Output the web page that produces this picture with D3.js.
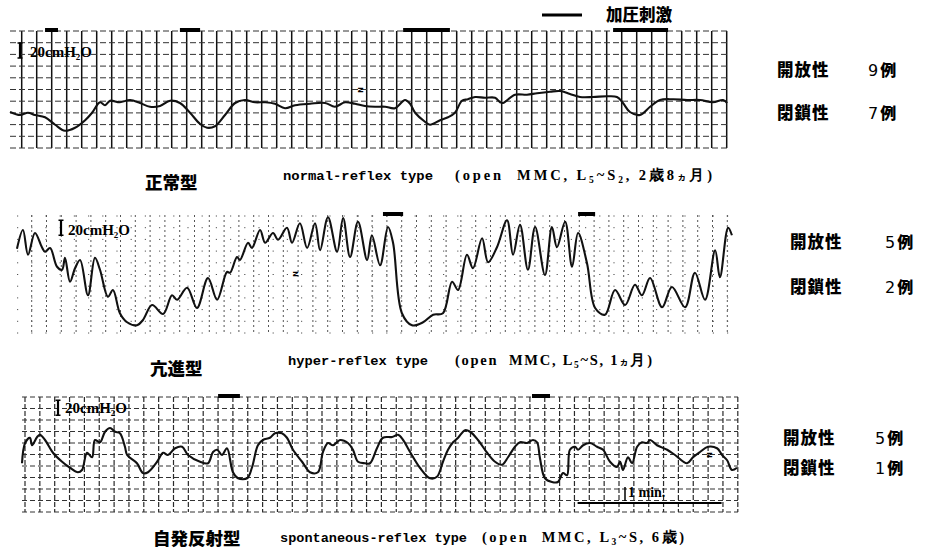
<!DOCTYPE html>
<html><head><meta charset="utf-8">
<script src="https://cdn.jsdelivr.net/npm/d3@7"></script>
<style>body{margin:0;background:#fff}</style>
</head><body>
<svg id="c" width="929" height="550"></svg>
<script>
// ---- data: [time (s), pressure (cmH2O, relative)] ----
const normalTrace = [[0,48],[4.2,44],[7.5,47],[10.4,44],[14.6,41],[18.8,31],[22.9,23],[27.1,27],[31.3,37],[34.2,47],[37.5,61],[39.6,57],[41.7,63],[45.8,61],[50,64],[54.2,60],[58.3,55],[62.5,56],[66.7,63],[70.8,60],[75,47],[79.2,32],[82.1,27],[85.4,29],[89.6,44],[93.8,60],[97.9,64],[102.1,61],[106.3,61],[110.4,59],[114.6,53],[118.8,57],[125,59],[131.3,60],[135.4,55],[139.6,61],[143.8,59],[147.9,56],[152.1,55],[156.3,55],[160.4,53],[164.6,64],[166.7,59],[168.8,47],[172.9,35],[175,31],[179.2,37],[182.5,41],[185.4,47],[188.3,63],[190.8,65],[193.8,68],[197.9,67],[202.1,67],[204.2,61],[205.4,60],[210.4,71],[215.4,71],[219.6,73],[225,75],[229.2,76],[233.3,72],[237.5,68],[242.9,68],[248.8,69],[252.9,68],[255.4,60],[258.3,48],[262.5,44],[266.7,55],[270.8,64],[276.3,65],[282.1,64],[287.5,64],[292.9,61],[297.1,64],[298.8,60]];
const hyperTrace = [[2.9,115],[5.4,140],[7.5,107],[10.4,136],[13.3,117],[14.6,111],[16.7,116],[19.6,91],[21.7,87],[22.9,103],[25,71],[27.1,89],[29.2,100],[32.5,53],[35.4,103],[37.5,87],[40.8,51],[42.9,60],[45.8,29],[48.8,17],[52.9,13],[55.4,20],[59.2,40],[63.8,28],[67.5,53],[69.6,47],[73.8,63],[77.9,36],[82.5,76],[86.3,47],[90.4,84],[91.7,83],[94.6,104],[95.8,100],[99.2,123],[100.8,116],[104.2,140],[106.3,123],[109.6,136],[111.7,127],[115.4,143],[117.5,123],[120.8,149],[123.8,116],[127.1,149],[129.2,113],[132.5,157],[136.3,111],[138.8,156],[141.7,104],[145,151],[148.8,100],[150.8,133],[154.2,93],[157.5,144],[159.6,123],[163.3,29],[167.5,13],[172.1,17],[176.3,27],[180.4,29],[184.2,71],[186.7,60],[190.4,107],[192.9,89],[196.7,129],[199.2,97],[202.9,117],[207.1,153],[209.6,107],[212.5,147],[215.8,87],[218.8,144],[222.9,80],[225.8,144],[227.9,117],[231.3,151],[234.2,91],[236.7,136],[240.4,96],[243.8,36],[247.9,27],[252.1,60],[256.3,40],[260.4,67],[263.3,53],[266.7,76],[271.7,37],[275.8,64],[281.3,37],[285.4,83],[289.6,47],[293.8,113],[295.8,77],[299.2,143],[300.8,133]];
const spontTrace = [[5,65],[6.3,92],[8.3,99],[9.2,89],[11.3,100],[12.5,103],[14.6,96],[17.9,79],[21.7,67],[25,59],[28.3,53],[30,56],[32.1,79],[34.2,73],[35.4,96],[37.5,93],[39.6,107],[41.7,112],[43.8,107],[45.8,105],[47.9,87],[48.8,76],[52.9,65],[55.4,52],[57.5,53],[61.3,67],[63.8,79],[65.8,76],[68.8,85],[71.7,87],[74.2,76],[79.2,67],[82.5,65],[84.6,80],[86.3,83],[88.3,76],[90.4,85],[92.9,53],[95,45],[98.8,45],[100.8,59],[103.3,89],[105.4,96],[108.3,99],[110.4,105],[113.3,105],[115.4,99],[117.9,83],[121.7,67],[125,53],[128.3,53],[130.4,80],[132.5,92],[134.6,89],[137.5,96],[140.8,92],[142.9,83],[145,67],[147.9,65],[150,65],[152.9,85],[155.4,99],[159.2,100],[161.7,103],[163.8,96],[166.7,80],[170.8,59],[175,45],[177.9,47],[180.4,67],[182.5,83],[184.6,93],[186.7,99],[189.6,109],[191.7,107],[195,96],[198.8,79],[202.1,67],[205,63],[207.5,73],[210.4,87],[212.5,93],[215.4,92],[217.9,96],[219.6,93],[220.8,72],[222.9,45],[225.8,40],[228.3,40],[230.4,52],[232.1,49],[233.3,83],[235.4,87],[236.7,83],[238.8,89],[241.7,92],[244.6,87],[247.1,83],[250,67],[252.9,60],[254.2,67],[255.4,56],[257.5,73],[259.2,65],[261.3,87],[263.3,93],[265.4,92],[266.7,96],[269.6,89],[273.8,83],[277.1,76],[282.1,65],[284.6,73],[287.5,80],[290.8,87],[294.6,85],[296.7,76],[298.8,69],[300.8,56],[302.9,59]];
// stimulation (加圧刺激) intervals, seconds
const normalStim = [[14.6,20],[70.8,79.2],[163.8,183.3],[251.3,274.2]];
const hyperStim = [[155.4,163.8],[236.7,243.8]];
const spontStim = [[86.7,95.8],[217.5,225]];
// labels
const titlesJa = ["正常型","亢進型","自発反射型"];
const titlesEn = ["normal-reflex type","hyper-reflex type","spontaneous-reflex type"];
const caseNotes = [
  [["(open  MMC, L",""],["5","sub"],["~S",""],["2","sub"],[", 2歳8",""],["ヵ","small"],["月)",""]],
  [["(open  MMC, L",""],["5","sub"],["~S, 1",""],["ヵ","small"],["月)",""]],
  [["(open  MMC, L",""],["3","sub"],["~S, 6歳)",""]]
];
const openLabel = "開放性", closedLabel = "閉鎖性";
const openCounts = [9,5,5];
const closedCounts = [7,2,1];
const scaleLabel = "20cmH₂O";
const scaleValue = 20;
const timeBarSeconds = 60;
const legendLabel = "加圧刺激";

// ---- layout ----
const svg = d3.select("#c");
const x = d3.scaleLinear().domain([0,300]).range([10,730]);
const panels = [
 {trace:normalTrace, stim:normalStim, bottom:148, top:31, gx0:21.7, gx1:727, gdx:15, hy0:31, hdy:11.7, vstyle:{w:1.5,dash:null,c:"#111"}, hstyle:{w:1,dash:"6,3",c:"#333"}, left:10,
  scaleAt:120, scaleX:20, labelX:30, labelY:57, jaX:145, jaY:189, enX:283, enY:180, enLen:150, noteX:455, noteLen:257, rX:777, rY1:76, rY2:119, cX:868, nX:358, nY:90},
 {trace:hyperTrace, stim:hyperStim, bottom:335, top:215, gx0:31.7, gx1:730, gdx:14.8, hy0:216, hdy:11.7, vstyle:{w:1,dash:"2,3",c:"#555"}, hstyle:{w:1,dash:"1.2,13",c:"#555"}, left:17,
  scaleAt:133, scaleX:61, labelX:68, labelY:235, jaX:150, jaY:375, enX:288, enY:365, enLen:140, noteX:455, noteLen:197, rX:790, rY1:248, rY2:293, cX:885, nX:293, nY:274},
 {trace:spontTrace, stim:spontStim, bottom:512, top:397, gx0:25, gx1:738, gdx:14.85, hy0:397, hdy:11.5, vstyle:{w:1.2,dash:"5,2",c:"#2a2a2a"}, hstyle:{w:1,dash:"5,3",c:"#333"}, left:22,
  scaleAt:129, scaleX:58, labelX:65, labelY:413, jaX:153, jaY:545, enX:280, enY:542, enLen:187, noteX:482, noteLen:202, rX:783, rY1:444, rY2:474, cX:875, nX:707, nY:455, timeBar:true}
];

panels.forEach((P,i)=>{
  const y = d3.scaleLinear().domain([0,160]).range([P.bottom, P.bottom-120]);
  const g = svg.append("g");
  // grid (chart paper)
  const vx = d3.range(P.gx0, P.gx1, P.gdx);
  g.selectAll(".v").data(vx).join("line")
    .attr("x1",d=>d).attr("x2",d=>d).attr("y1",P.top).attr("y2",P.bottom)
    .attr("stroke",P.vstyle.c).attr("stroke-width",P.vstyle.w)
    .attr("stroke-dasharray",P.vstyle.dash);
  const hy = d3.range(P.hy0, P.bottom+1, P.hdy);
  g.selectAll(".h").data(hy).join("line")
    .attr("x1",P.left).attr("x2",P.gx1).attr("y1",d=>d).attr("y2",d=>d)
    .attr("stroke",P.hstyle.c).attr("stroke-width",P.hstyle.w)
    .attr("stroke-dasharray",P.hstyle.dash);
  // stimulation bars
  g.selectAll(".s").data(P.stim).join("line")
    .attr("x1",d=>x(d[0])).attr("x2",d=>x(d[1]))
    .attr("y1",P.top-1).attr("y2",P.top-1)
    .attr("stroke","#000").attr("stroke-width",4);
  // trace
  const line = d3.line().x(d=>x(d[0])).y(d=>y(d[1])).curve(d3.curveCatmullRom.alpha(0.5));
  g.append("path").datum(P.trace).attr("d",line)
    .attr("fill","none").attr("stroke","#111").attr("stroke-width",2.1)
    .attr("stroke-linejoin","round");
  // 20 cmH2O calibration bar
  const y1 = y(P.scaleAt), y2 = y(P.scaleAt+scaleValue);
  g.append("line").attr("x1",P.scaleX).attr("x2",P.scaleX).attr("y1",y1).attr("y2",y2)
    .attr("stroke","#000").attr("stroke-width",2.2);
  [y1,y2].forEach(yy=>g.append("line").attr("x1",P.scaleX-2.5).attr("x2",P.scaleX+2.5)
    .attr("y1",yy).attr("y2",yy).attr("stroke","#000").attr("stroke-width",1.5));
  g.append("text").attr("x",P.labelX).attr("y",P.labelY).text(scaleLabel)
    .attr("font-family","Liberation Serif, serif").attr("font-weight","bold")
    .attr("font-size",15).attr("fill","#000");
  // N marker
  g.append("text").attr("transform",`translate(${P.nX},${P.nY}) rotate(90)`)
    .text("N").attr("font-family","DejaVu Sans").attr("font-weight","bold")
    .attr("font-size",7).attr("fill","#000").attr("text-anchor","middle");
  // titles
  g.append("text").attr("x",P.jaX).attr("y",P.jaY).text(titlesJa[i])
    .attr("font-family","Noto Sans CJK JP").attr("font-weight",900)
    .attr("font-size",17.5).attr("fill","#000");
  g.append("text").attr("x",P.enX).attr("y",P.enY).text(titlesEn[i])
    .attr("font-family","Liberation Mono, monospace").attr("font-weight","bold")
    .attr("font-size",13).attr("fill","#000")
    .attr("textLength",P.enLen).attr("lengthAdjust","spacingAndGlyphs");
  const note = g.append("text").attr("x",P.noteX).attr("y",P.enY)
    .attr("font-family","Liberation Serif, serif").attr("font-weight","bold")
    .attr("font-size",14.5).attr("fill","#000")
    .attr("textLength",P.noteLen).attr("lengthAdjust","spacing")
    .style("white-space","pre");
  caseNotes[i].forEach((s,k)=>{
    const t = note.append("tspan").text(s[0]);
    const prev = k>0 ? caseNotes[i][k-1][1] : "";
    if(s[1]==="sub") t.attr("font-size",9.5).attr("dy",2.5);
    else {
      if(prev==="sub") t.attr("dy",-2.5);
      if(s[1]==="small") t.attr("font-size",9.5).attr("font-family","Noto Sans CJK JP");
    }
  });
  // counts
  const cj = {"font-family":"Noto Sans CJK JP","font-weight":900,"font-size":16.5,"fill":"#000"};
  const t1 = g.append("text").attr("x",P.rX).attr("y",P.rY1).text(openLabel).attr("letter-spacing",1);
  const t2 = g.append("text").attr("x",P.rX).attr("y",P.rY2).text(closedLabel).attr("letter-spacing",1);
  [t1,t2].forEach(t=>Object.entries(cj).forEach(([k,v])=>t.attr(k,v)));
  [[openCounts[i],P.rY1],[closedCounts[i],P.rY2]].forEach(([n,yy])=>{
    const t = g.append("text").attr("x",P.cX).attr("y",yy).attr("fill","#000");
    t.append("tspan").text(n).attr("font-family","DejaVu Sans").attr("font-size",16);
    t.append("tspan").text("例").attr("dx",2).attr("font-family","Noto Sans CJK JP").attr("font-weight",900).attr("font-size",16);
  });
  // time bar
  if(P.timeBar){
    const t0 = 236.5;
    g.append("line").attr("x1",x(t0)).attr("x2",x(t0+timeBarSeconds)).attr("y1",503).attr("y2",503)
      .attr("stroke","#000").attr("stroke-width",2.2);
    g.append("line").attr("x1",625).attr("x2",625).attr("y1",487).attr("y2",501)
      .attr("stroke","#000").attr("stroke-width",1.5);
    g.append("text").attr("x",628).attr("y",497).text("1 min.")
      .attr("font-family","Liberation Serif, serif").attr("font-weight","bold")
      .attr("font-size",14).attr("fill","#000");
  }
});
// legend
svg.append("line").attr("x1",542).attr("x2",582).attr("y1",15).attr("y2",15)
  .attr("stroke","#000").attr("stroke-width",3);
svg.append("text").attr("x",606).attr("y",21).text(legendLabel)
  .attr("font-family","Noto Sans CJK JP").attr("font-weight",900)
  .attr("font-size",16.5).attr("fill","#000");
</script>
</body></html>
